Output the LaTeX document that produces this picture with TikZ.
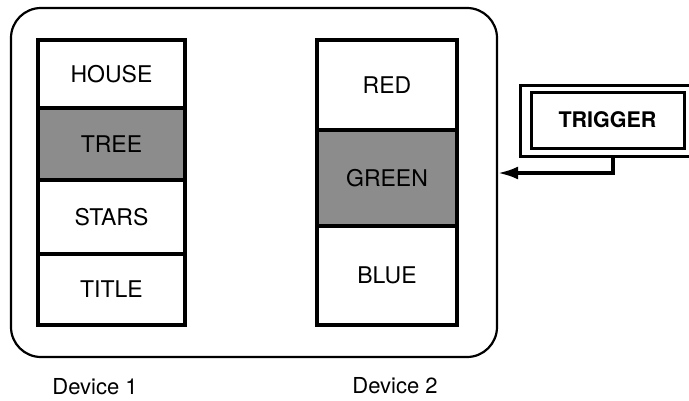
\documentclass[tikz,border=0pt]{standalone}
\usepackage{fontspec}
\setmainfont{TeX Gyre Heros}
\usetikzlibrary{arrows.meta}
\begin{document}
\begin{tikzpicture}[x=1pt,y=-1pt,
  cell/.style={draw=black,line width=3.2pt,minimum width=147pt,inner sep=0pt,
    font=\fontsize{23}{27}\selectfont},
  cellB/.style={cell,minimum width=140pt},
  shaded/.style={fill=black!45},
  lbl/.style={font=\fontsize{22}{26}\selectfont,inner sep=0pt},
  arr/.style={line width=3.2pt,-{Latex[length=20pt,width=13pt]}}]
\useasboundingbox (0,0) rectangle (689,400);
\fill[white] (0,0) rectangle (689,400);
% outer frame
\node[draw=black,line width=2.2pt,rounded corners=30pt,minimum width=486pt,
  minimum height=349pt,inner sep=0pt] (frame) at (254,182.5) {};
% device 1
\node[cell,minimum height=68pt] (house) at (111.5,74) {HOUSE};
\node[cell,shaded,minimum height=72pt] (tree) at (111.5,144) {TREE};
\node[cell,minimum height=74pt] (stars) at (111.5,217) {STARS};
\node[cell,minimum height=71pt] (title) at (111.5,289.5) {TITLE};
% device 2
\node[cellB,minimum height=90pt] (red) at (387,85) {RED};
\node[cellB,shaded,minimum height=96pt] (green) at (387,178) {GREEN};
\node[cellB,minimum height=99pt] (blue) at (387,275.5) {BLUE};
% labels
\node[lbl] (d1) at (95,387) {Device 1};
\node[lbl] (d2) at (395,386) {Device 2};
% trigger
\node[draw=black,line width=3pt,minimum width=153pt,minimum height=56pt,
  inner sep=0pt,font=\fontsize{21.5}{25}\selectfont\bfseries] (trigger) at (607.5,120) {TRIGGER};
\draw[line width=3pt] (689,85) -- (520,85) -- (520,156) -- (689,156);
\coordinate (tap) at (613,156);
\coordinate (armlevel) at (0,173);
\draw[arr] (tap) |- (frame.east |- armlevel);
\end{tikzpicture}
\end{document}
